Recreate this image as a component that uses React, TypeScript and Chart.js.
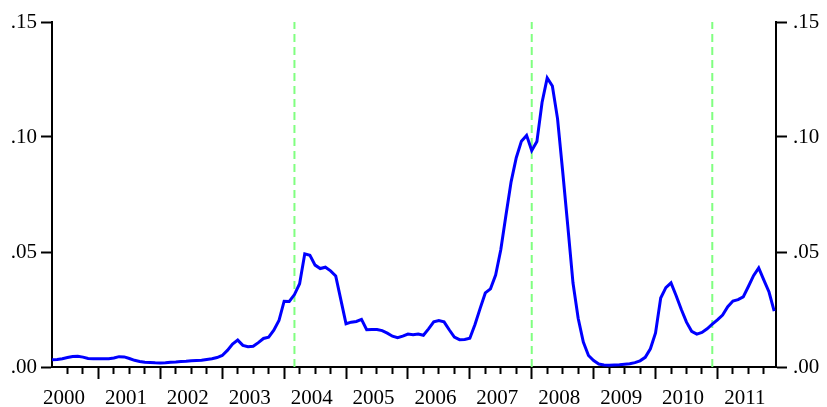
import React, { useEffect, useRef } from "react";
import { Chart, registerables } from "chart.js";

Chart.register(...registerables);

// ---- data (monthly, first observation 2000M4) ----
const firstYear = 2000;
const firstMonth = 4;

const v2000 = [0.0031, 0.0033, 0.0036, 0.0041, 0.0046, 0.0047, 0.0043, 0.0037, 0.0036];
const v2001 = [0.0036, 0.0036, 0.0036, 0.0039, 0.0045, 0.0044, 0.0037, 0.0029, 0.0024, 0.0021, 0.002, 0.0018];
const v2002 = [0.0017, 0.0018, 0.0021, 0.0022, 0.0024, 0.0025, 0.0027, 0.0028, 0.0029, 0.0033, 0.0036, 0.0041];
const v2003 = [0.005, 0.0072, 0.01, 0.0117, 0.0094, 0.0088, 0.009, 0.0106, 0.0124, 0.013, 0.016, 0.0202];
const v2004 = [0.0286, 0.0285, 0.0315, 0.0362, 0.0492, 0.0486, 0.0443, 0.0428, 0.0434, 0.0418, 0.0396, 0.0292];
const v2005 = [0.0188, 0.0195, 0.0198, 0.0207, 0.0162, 0.0163, 0.0163, 0.0158, 0.0147, 0.0134, 0.0127, 0.0134];
const v2006 = [0.0143, 0.014, 0.0143, 0.0138, 0.0166, 0.0196, 0.0202, 0.0196, 0.0162, 0.013, 0.0119, 0.012];
const v2007 = [0.0125, 0.0185, 0.0255, 0.0322, 0.034, 0.04, 0.051, 0.066, 0.0805, 0.091, 0.0982, 0.1007];
const v2008 = [0.0941, 0.098, 0.115, 0.1257, 0.1222, 0.108, 0.085, 0.061, 0.0365, 0.0212, 0.0108, 0.005];
const v2009 = [0.0028, 0.0013, 0.0009, 0.0008, 0.0009, 0.001, 0.0012, 0.0014, 0.0019, 0.0027, 0.0042, 0.0079];
const v2010 = [0.0148, 0.03, 0.0345, 0.0366, 0.031, 0.025, 0.0195, 0.0155, 0.0143, 0.015, 0.0166, 0.0186];
const v2011 = [0.0205, 0.0226, 0.0262, 0.0287, 0.0293, 0.0305, 0.035, 0.0397, 0.0431, 0.0378, 0.0326, 0.0243];

const yearlyValues = [v2000, v2001, v2002, v2003, v2004, v2005, v2006, v2007, v2008, v2009, v2010, v2011];

const yearLabels = [2000, 2001, 2002, 2003, 2004, 2005, 2006, 2007, 2008, 2009, 2010, 2011];

// vertical break markers (year, month)
const breakYears = [2004, 2008, 2010];
const breakMonths = [3, 1, 12];

const yTicks = [0, 0.05, 0.1, 0.15];

const X_MIN = 2000.25;
const X_MAX = 2011.946;
const Y_MIN = 0;
const Y_MAX = 0.15;

const FONT = "'Liberation Serif', 'Times New Roman', serif";

function monthToX(year: number, month: number) {
  return year + (month - 1) / 12;
}

function buildSeries() {
  const pts: { x: number; y: number }[] = [];
  yearlyValues.forEach((arr, k) => {
    const year = firstYear + k;
    const m0 = k === 0 ? firstMonth : 1;
    arr.forEach((v, j) => pts.push({ x: monthToX(year, m0 + j), y: v }));
  });
  return pts;
}

function fmtY(v: number) {
  const s = Math.round(v * 100).toString().padStart(2, "0");
  return "." + s;
}

export default function App() {
  const ref = useRef<HTMLCanvasElement | null>(null);

  useEffect(() => {
    if (!ref.current) return;
    Chart.defaults.font.family = FONT;

    const breakSets = breakYears.map((y, i) => {
      const x = monthToX(y, breakMonths[i]);
      return {
        type: "line" as const,
        data: [
          { x, y: Y_MIN },
          { x, y: Y_MAX },
        ],
        borderColor: "#80ff80",
        borderWidth: 2,
        borderDash: [8, 5],
        pointRadius: 0,
        tension: 0,
        fill: false,
        order: 1,
        xAxisID: "x",
        yAxisID: "y",
      };
    });

    const yCommon = (pos: "left" | "right", width: number, padding: number) => ({
      type: "linear" as const,
      position: pos,
      min: Y_MIN,
      max: Y_MAX,
      afterBuildTicks: (s: any) => {
        s.ticks = yTicks.map((v) => ({ value: v }));
      },
      afterFit: (s: any) => {
        s.width = width;
      },
      ticks: {
        padding,
        color: "#000",
        font: { size: 21, family: FONT },
        callback: (v: any) => fmtY(Number(v)),
      },
      grid: {
        drawOnChartArea: false,
        drawTicks: true,
        tickLength: 11,
        tickWidth: 2,
        tickColor: "#000",
      },
      border: { display: true, color: "#000", width: 2 },
    });

    const chart = new Chart(ref.current, {
      type: "line",
      data: {
        datasets: [
          {
            type: "line",
            data: buildSeries(),
            borderColor: "#0000ff",
            borderWidth: 3,
            pointRadius: 0,
            tension: 0,
            fill: false,
            order: 0,
            xAxisID: "x",
            yAxisID: "y",
          },
          ...breakSets,
        ] as any,
      },
      options: {
        responsive: false,
        animation: false,
        devicePixelRatio: 1,
        layout: { padding: { top: 22, left: 0, right: 0, bottom: 0 } },
        plugins: {
          legend: { display: false },
          tooltip: { enabled: false },
        },
        scales: {
          x: {
            type: "linear",
            position: "bottom",
            min: X_MIN,
            max: X_MAX,
            afterBuildTicks: (scale: any) => {
              const ticks: any[] = [];
              for (const y of yearLabels) {
                for (let q = 0; q < 4; q++) {
                  const v = y + q / 4;
                  if (q === 0 || (v > X_MIN + 1e-6 && v <= X_MAX)) {
                    ticks.push({ value: v, major: q === 0 });
                  }
                }
              }
              scale.ticks = ticks;
            },
            afterFit: (s: any) => {
              s.height = 40;
            },
            ticks: {
              autoSkip: false,
              maxRotation: 0,
              minRotation: 0,
              labelOffset: 27.5,
              padding: 7,
              color: "#000",
              font: { size: 21, family: FONT },
              callback: (v: any) => (Number.isInteger(Number(v)) ? String(v) : ""),
            },
            grid: {
              drawOnChartArea: false,
              drawTicks: true,
              tickLength: 12,
              tickWidth: 2,
              tickColor: (ctx: any) =>
                ctx.tick && ctx.tick.value < X_MIN ? "rgba(0,0,0,0)" : "#000",
              tickBorderDash: (ctx: any) => (ctx.tick && ctx.tick.major ? [] : [6, 30]),
            },
            border: { display: true, color: "#000", width: 2 },
          } as any,
          y: yCommon("left", 52, 4) as any,
          y2: yCommon("right", 51, 6) as any,
        },
      },
    });
    return () => chart.destroy();
  }, []);

  return (
    <div style={{ position: "absolute", left: 0, top: 0, width: 827, height: 407, background: "#fff" }}>
      <canvas ref={ref} width={827} height={407} style={{ width: 827, height: 407 }} />
    </div>
  );
}
